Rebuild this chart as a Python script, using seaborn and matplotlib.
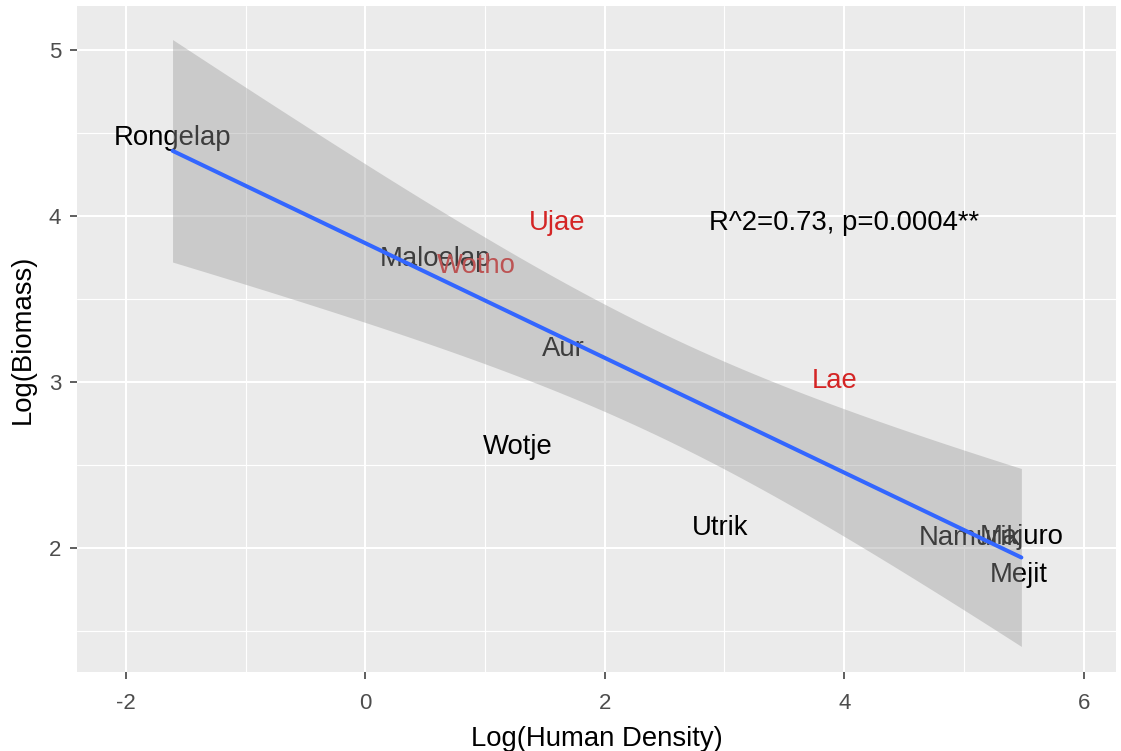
import numpy as np
import pandas as pd
import matplotlib
matplotlib.use("Agg")
import matplotlib.pyplot as plt
import seaborn as sns
from matplotlib.ticker import MultipleLocator

# ---- data ----
atolls = ["Rongelap", "Maloelap", "Wotho", "Ujae", "Aur", "Wotje",
          "Utrik", "Lae", "Namurik", "Majuro", "Mejit"]
log_density = [-1.61, 0.59, 0.93, 1.60, 1.65, 1.27, 2.96, 3.92, 5.05, 5.48, 5.46]
log_biomass = [4.47, 3.74, 3.70, 3.96, 3.20, 2.61, 2.12, 3.01, 2.06, 2.07, 1.84]
group = ["a", "a", "b", "b", "a", "a", "a", "b", "a", "a", "a"]
group_colors = {"a": "black", "b": "#D42525"}
annotation_text = "R^2=0.73, p=0.0004**"
annotation_pos = (4.0, 3.96)
x_label = "Log(Human Density)"
y_label = "Log(Biomass)"

df = pd.DataFrame({"atoll": atolls, "x": log_density, "y": log_biomass, "group": group})

# ---- style (ggplot2 grey theme look) ----
sns.set_theme(style="darkgrid")
plt.rcParams["font.family"] = ["Liberation Sans", "DejaVu Sans"]
plt.rcParams["axes.facecolor"] = "#EBEBEB"
plt.rcParams["axes.unicode_minus"] = False

fig, ax = plt.subplots(figsize=(11.21, 7.51), dpi=100)
fig.subplots_adjust(left=0.0687, right=0.9955, top=0.992, bottom=0.1052)

# ---- linear fit with 95% confidence band (like geom_smooth(method='lm')) ----
x = df["x"].to_numpy()
y = df["y"].to_numpy()
n = len(x)
slope, intercept = np.polyfit(x, y, 1)
resid = y - (slope * x + intercept)
s = np.sqrt(np.sum(resid ** 2) / (n - 2))
sxx = np.sum((x - x.mean()) ** 2)
t_crit = 2.262157  # t(0.975, df=9)
xs = np.linspace(x.min(), x.max(), 80)
fit = slope * xs + intercept
se = s * np.sqrt(1.0 / n + (xs - x.mean()) ** 2 / sxx)
fit_df = pd.DataFrame({"x": xs, "y": fit})

# text labels first (band drawn on top, as in ggplot)
for _, r in df.iterrows():
    ax.text(r["x"], r["y"], r["atoll"], color=group_colors[r["group"]],
            fontsize=19.8, ha="center", va="center", zorder=2)

ax.fill_between(xs, fit - t_crit * se, fit + t_crit * se, color="#999999",
                alpha=0.4, linewidth=0, zorder=3)
sns.lineplot(data=fit_df, x="x", y="y", color="#3366FF", linewidth=2.9, ax=ax, zorder=4)

ax.text(annotation_pos[0], annotation_pos[1], annotation_text, color="black",
        fontsize=19.8, ha="center", va="center", zorder=5)

# ---- axes ----
ax.set_xlim(-2.408, 6.27)
ax.set_ylim(1.255, 5.265)
ax.xaxis.set_major_locator(MultipleLocator(2))
ax.xaxis.set_minor_locator(MultipleLocator(1))
ax.yaxis.set_major_locator(MultipleLocator(1))
ax.yaxis.set_minor_locator(MultipleLocator(0.5))
ax.grid(which="major", color="white", linewidth=1.5)
ax.grid(which="minor", color="white", linewidth=0.8)
ax.set_axisbelow(True)
for sp in ax.spines.values():
    sp.set_visible(False)

ax.tick_params(axis="both", which="major", labelsize=16, labelcolor="#4D4D4D",
               color="#333333", length=5, width=1.1, bottom=True, left=True)
ax.tick_params(axis="x", which="major", pad=10)
ax.tick_params(axis="y", which="major", pad=6.5)
ax.tick_params(axis="both", which="minor", length=0)

ax.set_xlabel(x_label, fontsize=19.8, color="black", labelpad=9)
ax.set_ylabel(y_label, fontsize=19.8, color="black", labelpad=9.5)

fig.savefig("out.png", dpi=100)
